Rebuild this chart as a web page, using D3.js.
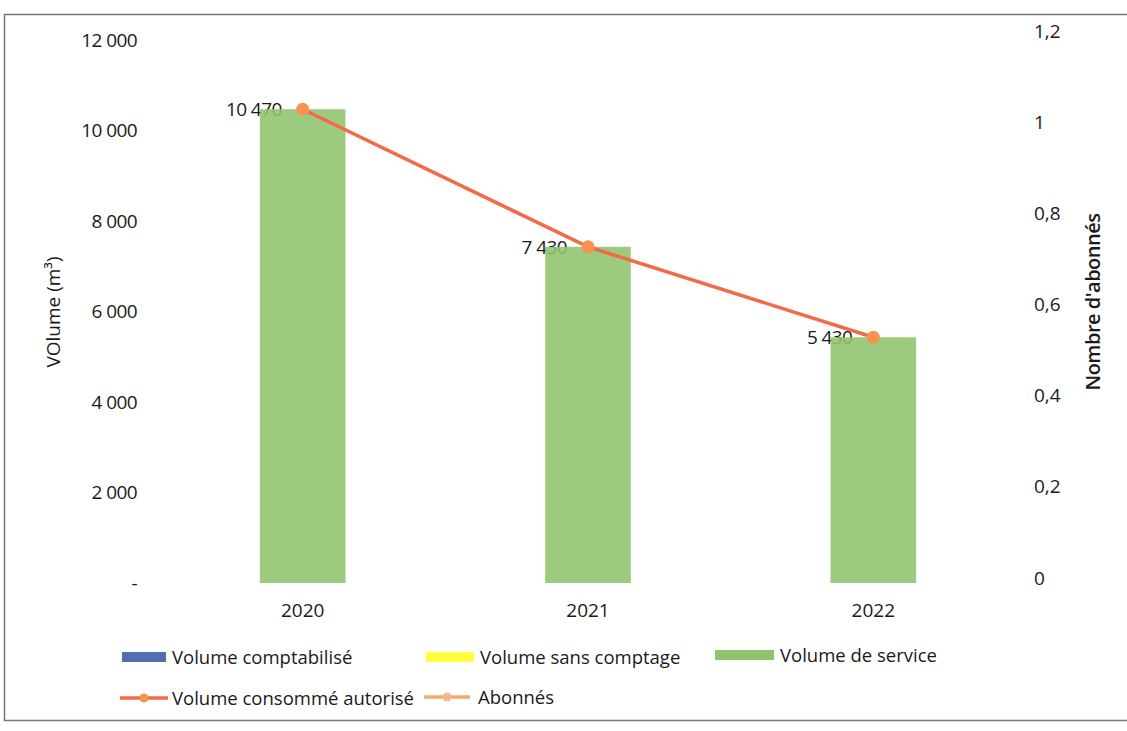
<!DOCTYPE html>
<html><head><meta charset="utf-8">
<script src="https://cdn.jsdelivr.net/npm/d3@7"></script>
<style>
body{margin:0;background:#fff;}
svg{font-family:"Open Sans","Liberation Sans",sans-serif;}
</style></head>
<body><svg id="c" width="1127" height="731"></svg>
<script>
const years = ["2020","2021","2022"];
const volumeComptabilise = [0,0,0];
const volumeSansComptage = [0,0,0];
const volumeService = [10470,7430,5430];
const volumeConsommeAutorise = [10470,7430,5430];
const dataLabels = ["10 470","7 430","5 430"];
const leftTicks = [0,2000,4000,6000,8000,10000,12000];
const leftTickLabels = ["-","2 000","4 000","6 000","8 000","10 000","12 000"];
const rightTicks = [0,0.2,0.4,0.6,0.8,1,1.2];
const rightTickLabels = ["0","0,2","0,4","0,6","0,8","1","1,2"];

const svg = d3.select("#c");
svg.append("rect").attr("x",4.5).attr("y",14.5).attr("width",1140).attr("height",706)
  .attr("fill","none").attr("stroke","#777").attr("stroke-width",1.5);

const x = d3.scaleBand().domain(years).range([160,1016]).paddingInner(0.7).paddingOuter(0.35);
const yL = d3.scaleLinear().domain([0,12000]).range([583,40]);
const yR = d3.scaleLinear().domain([0,1.2]).range([578,31]);

const leftAxis = d3.axisLeft(yL).tickValues(leftTicks).tickFormat((d,i)=>leftTickLabels[i]).tickSize(0).tickPadding(0);
const gl = svg.append("g").attr("transform","translate(137,0)").call(leftAxis);
gl.select(".domain").remove();
gl.selectAll("text").attr("font-size",19).attr("fill","#1a1a1a").attr("font-family","Open Sans").style("letter-spacing","-0.6px");

const rightAxis = d3.axisRight(yR).tickValues(rightTicks).tickFormat((d,i)=>rightTickLabels[i]).tickSize(0).tickPadding(0);
const gr = svg.append("g").attr("transform","translate(1034,0)").call(rightAxis);
gr.select(".domain").remove();
gr.selectAll("text").attr("font-size",19).attr("fill","#1a1a1a").attr("font-family","Open Sans");

const xAxis = d3.axisBottom(x).tickSize(0).tickPadding(0);
const gx = svg.append("g").attr("transform","translate(0,603)").call(xAxis);
gx.select(".domain").remove();
gx.selectAll("text").attr("font-size",19).attr("fill","#1a1a1a").attr("font-family","Open Sans");

svg.append("text").attr("transform","translate(60,312) rotate(-90)").attr("text-anchor","middle")
  .attr("font-size",19).attr("fill","#1a1a1a").text("VOlume (m³)");
svg.append("text").attr("transform","translate(1100,302) rotate(-90)").attr("text-anchor","middle")
  .attr("font-size",20).attr("fill","#1a1a1a").attr("font-weight","600").style("letter-spacing","-0.5px").text("Nombre d'abonnés");

// data labels (behind bars)
svg.append("g").selectAll("text").data(volumeConsommeAutorise).join("text")
  .attr("x",(d,i)=>x(years[i])+x.bandwidth()/2-21).attr("y",d=>yL(d)+7)
  .attr("text-anchor","end").attr("font-size",19).attr("fill","#1a1a1a").style("letter-spacing","-0.6px")
  .text((d,i)=>dataLabels[i]);

// bars
svg.append("g").selectAll("rect").data(volumeService).join("rect")
  .attr("x",(d,i)=>x(years[i])).attr("width",x.bandwidth())
  .attr("y",d=>yL(d)).attr("height",d=>yL(0)-yL(d))
  .attr("fill","#8ec46e").attr("fill-opacity",0.88);

// line
const line = d3.line().x((d,i)=>x(years[i])+x.bandwidth()/2).y(d=>yL(d));
svg.append("path").datum(volumeConsommeAutorise).attr("d",line)
  .attr("fill","none").attr("stroke","#f26a47").attr("stroke-width",3.5);
svg.append("g").selectAll("circle").data(volumeConsommeAutorise).join("circle")
  .attr("cx",(d,i)=>x(years[i])+x.bandwidth()/2).attr("cy",d=>yL(d)).attr("r",6.5)
  .attr("fill","#f7934f");

// legend
const lg = svg.append("g").attr("font-size",18.5).attr("fill","#1a1a1a");
const sw = [
  {x:122,y:657,c:"#4f6fae",t:"Volume comptabilisé",tx:172},
  {x:426,y:657,c:"#ffff40",t:"Volume sans comptage",tx:480},
  {x:715,y:655,c:"#8ec46e",t:"Volume de service",tx:780}
];
sw.forEach(s=>{
  lg.append("rect").attr("x",s.x).attr("y",s.y-5).attr("width",s.tx-s.x-6).attr("height",10).attr("fill",s.c);
  lg.append("text").attr("x",s.tx).attr("y",s.y+7).text(s.t);
});
const ls = [
  {x1:120,x2:168,y:698,c:"#f26a47",m:"#f7934f",t:"Volume consommé autorisé",tx:172},
  {x1:424,x2:470,y:697,c:"#f6a86d",m:"#f7b98a",t:"Abonnés",tx:478}
];
ls.forEach(s=>{
  lg.append("line").attr("x1",s.x1).attr("x2",s.x2).attr("y1",s.y).attr("y2",s.y).attr("stroke",s.c).attr("stroke-width",3.5);
  lg.append("circle").attr("cx",(s.x1+s.x2)/2).attr("cy",s.y).attr("r",4.5).attr("fill",s.m);
  lg.append("text").attr("x",s.tx).attr("y",s.y+7).text(s.t);
});
</script></body></html>
